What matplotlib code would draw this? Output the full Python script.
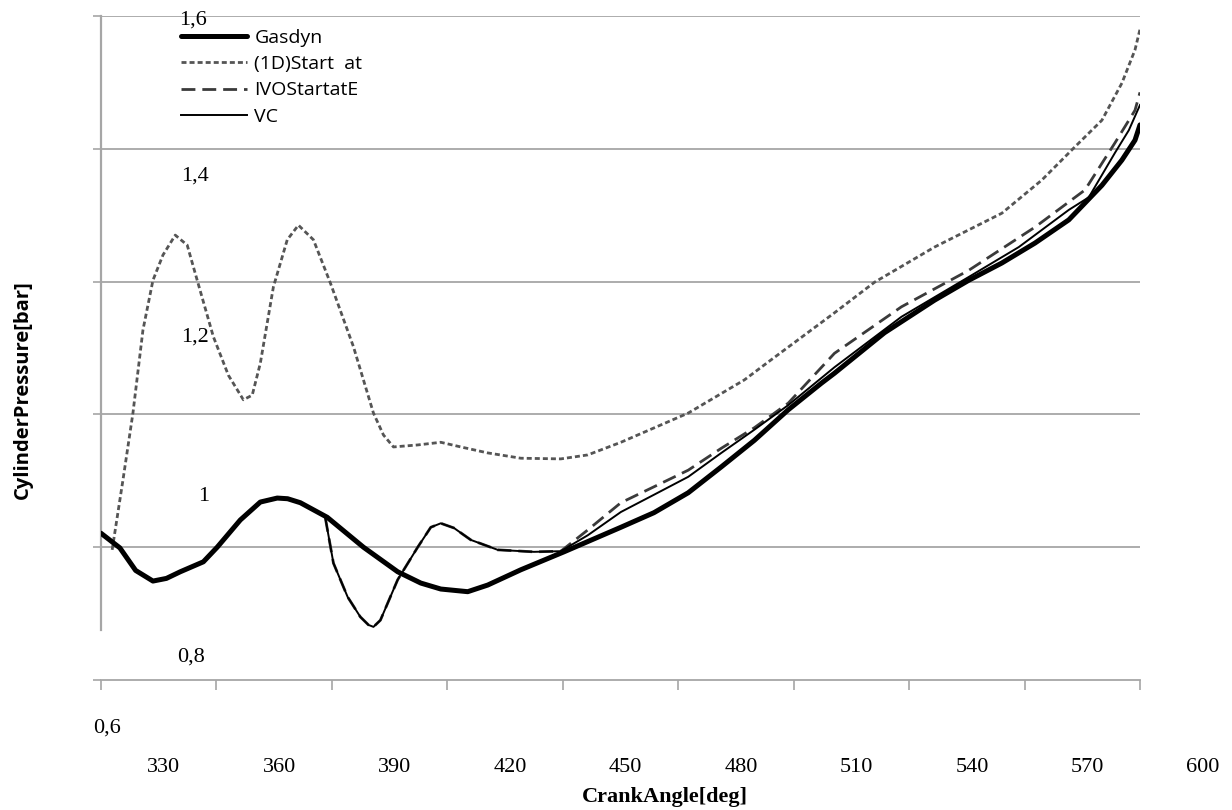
import matplotlib.pyplot as plt
from matplotlib.transforms import ScaledTranslation, blended_transform_factory

# Datos (ángulo de cigüeñal [deg], presión [bar])
gas_x = [330.0, 334.9, 339.0, 343.5, 347.0, 350.6, 356.6, 360.2, 366.2, 371.4,
         375.8, 378.5, 381.8, 388.8, 398.2, 407.1, 413.1, 418.3, 425.3, 430.5,
         439.1, 450.3, 465.1, 473.7, 482.6, 491.2, 499.8, 508.6, 517.2, 520.6,
         533.6, 546.6, 555.5, 564.1, 572.7, 581.5, 590.1, 595.3, 598.7, 600.0]
gas_y = [0.821, 0.799, 0.765, 0.749, 0.753, 0.763, 0.778, 0.800, 0.841, 0.868,
         0.874, 0.873, 0.867, 0.845, 0.800, 0.763, 0.746, 0.737, 0.733, 0.743,
         0.766, 0.793, 0.830, 0.852, 0.882, 0.921, 0.961, 1.007, 1.047, 1.062,
         1.123, 1.172, 1.202, 1.228, 1.258, 1.293, 1.345, 1.383, 1.413, 1.436]

d1_x = [332.9, 335.7, 338.3, 340.9, 343.5, 346.1, 349.3, 352.4, 355.0, 359.2,
        363.1, 367.0, 369.3, 371.4, 374.8, 378.4, 381.3, 385.2, 389.6, 395.6,
        400.8, 403.4, 406.0, 412.3, 418.3, 423.5, 430.5, 439.1, 449.5, 456.5,
        465.1, 482.6, 497.2, 503.4, 520.6, 531.0, 546.6, 564.1, 574.5, 583.1,
        590.1, 595.3, 598.7, 600.0]
d1_y = [0.796, 0.901, 1.002, 1.127, 1.202, 1.240, 1.270, 1.255, 1.202, 1.117,
        1.059, 1.022, 1.029, 1.077, 1.192, 1.263, 1.285, 1.263, 1.198, 1.102,
        1.002, 0.969, 0.951, 0.954, 0.958, 0.951, 0.942, 0.934, 0.933, 0.939,
        0.958, 1.002, 1.052, 1.079, 1.153, 1.199, 1.252, 1.303, 1.353, 1.403,
        1.443, 1.499, 1.549, 1.580]

ivo_x = [388.3, 390.4, 394.1, 397.4, 399.5, 400.8, 402.6, 407.1, 412.3, 415.7,
         418.3, 421.7, 426.1, 433.1, 442.5, 449.5, 456.5, 465.1, 473.7, 482.6,
         491.2, 499.8, 508.6, 520.6, 538.0, 555.5, 572.7, 585.7, 593.5, 598.7,
         600.0]
ivo_y = [0.844, 0.776, 0.725, 0.695, 0.683, 0.680, 0.690, 0.751, 0.800, 0.830,
         0.836, 0.829, 0.811, 0.796, 0.793, 0.794, 0.826, 0.867, 0.891, 0.916,
         0.949, 0.980, 1.017, 1.092, 1.162, 1.217, 1.282, 1.338, 1.409, 1.458,
         1.485]

vc_x = [388.3, 390.4, 394.1, 397.4, 399.5, 400.8, 402.6, 407.1, 412.3, 415.7,
        418.3, 421.7, 426.1, 433.1, 442.5, 449.5, 456.5, 465.1, 473.7, 482.6,
        491.2, 499.8, 508.6, 520.6, 538.0, 555.5, 568.5, 581.5, 586.7, 593.5,
        597.1, 600.0]
vc_y = [0.844, 0.776, 0.725, 0.695, 0.683, 0.680, 0.690, 0.751, 0.800, 0.830,
        0.836, 0.829, 0.811, 0.796, 0.793, 0.794, 0.818, 0.853, 0.879, 0.906,
        0.942, 0.977, 1.014, 1.071, 1.147, 1.207, 1.252, 1.308, 1.327, 1.394,
        1.428, 1.466]

x_ticks = [330, 360, 390, 420, 450, 480, 510, 540, 570, 600]
x_labels = ["330", "360", "390", "420", "450", "480", "510", "540", "570", "600"]
y_ticks = [0.6, 0.8, 1.0, 1.2, 1.4, 1.6]
y_labels = ["0,6", "0,8", "1", "1,2", "1,4", "1,6"]
# posiciones (desplazadas) de las etiquetas del eje Y tal como aparecen
y_label_pos = [(331.6, 0.528), (353.5, 0.635), (356.6, 0.876),
               (354.5, 1.117), (354.5, 1.359), (354.0, 1.594)]

GRIS = "#a6a6a6"

fig = plt.figure(figsize=(12.32, 8.10), dpi=100)
ax = fig.add_axes([101/1232, 130/810, 1039/1232, 664/810])

ax.plot(gas_x, gas_y, color="black", lw=3.6, label="Gasdyn", zorder=4,
        solid_joinstyle="round", solid_capstyle="round")
ax.plot(d1_x, d1_y, color="#555555", lw=2.0, linestyle=(0, (1.8, 1.1)),
        label="(1D)Start  at", zorder=3)
ax.plot(ivo_x, ivo_y, color="#3a3a3a", lw=2.0, linestyle=(0, (5, 2.5)),
        label="IVOStartatE", zorder=3)
ax.plot(vc_x, vc_y, color="black", lw=1.4, label="VC", zorder=5,
        solid_joinstyle="round")

ax.set_xlim(330, 600)
ax.set_ylim(0.6, 1.6)

# Rejilla horizontal
for v in y_ticks[1:]:
    ax.axhline(v, color=GRIS, lw=1.3, zorder=1)

ax.set_xticks(x_ticks)
ax.set_xticklabels([])
ax.set_yticks(y_ticks)
ax.set_yticklabels([])
ax.tick_params(axis="x", direction="out", length=7, width=1.2, color=GRIS)
ax.tick_params(axis="y", direction="out", length=6, width=1.2, color=GRIS)

for s in ["top", "right"]:
    ax.spines[s].set_visible(False)
ax.spines["bottom"].set_color(GRIS)
ax.spines["bottom"].set_linewidth(1.3)
ax.spines["left"].set_color(GRIS)
ax.spines["left"].set_linewidth(1.6)
ax.spines["left"].set_bounds(0.675, 1.6)

# Etiquetas del eje X (desplazadas entre marcas)
trans_x = blended_transform_factory(ax.transData, ax.transAxes) + \
    ScaledTranslation(0.63, -0.87, fig.dpi_scale_trans)
for xv, lab in zip(x_ticks, x_labels):
    ax.text(xv, 0, lab, transform=trans_x, ha="center", va="center",
            fontsize=16, family="Liberation Serif", clip_on=False)

# Etiquetas del eje Y
for (px, py), lab in zip(y_label_pos, y_labels):
    ax.text(px, py, lab, ha="center", va="center", fontsize=16,
            family="Liberation Serif", clip_on=False)

fig.text(665/1232, 1 - 797/810, "CrankAngle[deg]", ha="center", va="center",
         fontsize=16, fontweight="bold", family="Liberation Serif")
fig.text(23/1232, 1 - 390/810, "CylinderPressure[bar]", ha="center",
         va="center", rotation=90, fontsize=14.5, fontweight="bold",
         family="Open Sans")

leg = ax.legend(loc="upper left", bbox_to_anchor=(0.068, 0.995), frameon=False,
                handlelength=3.4, handletextpad=0.35, labelspacing=0.42,
                borderpad=0, prop={"family": "Open Sans", "size": 14})

plt.savefig("out.png", dpi=100)
